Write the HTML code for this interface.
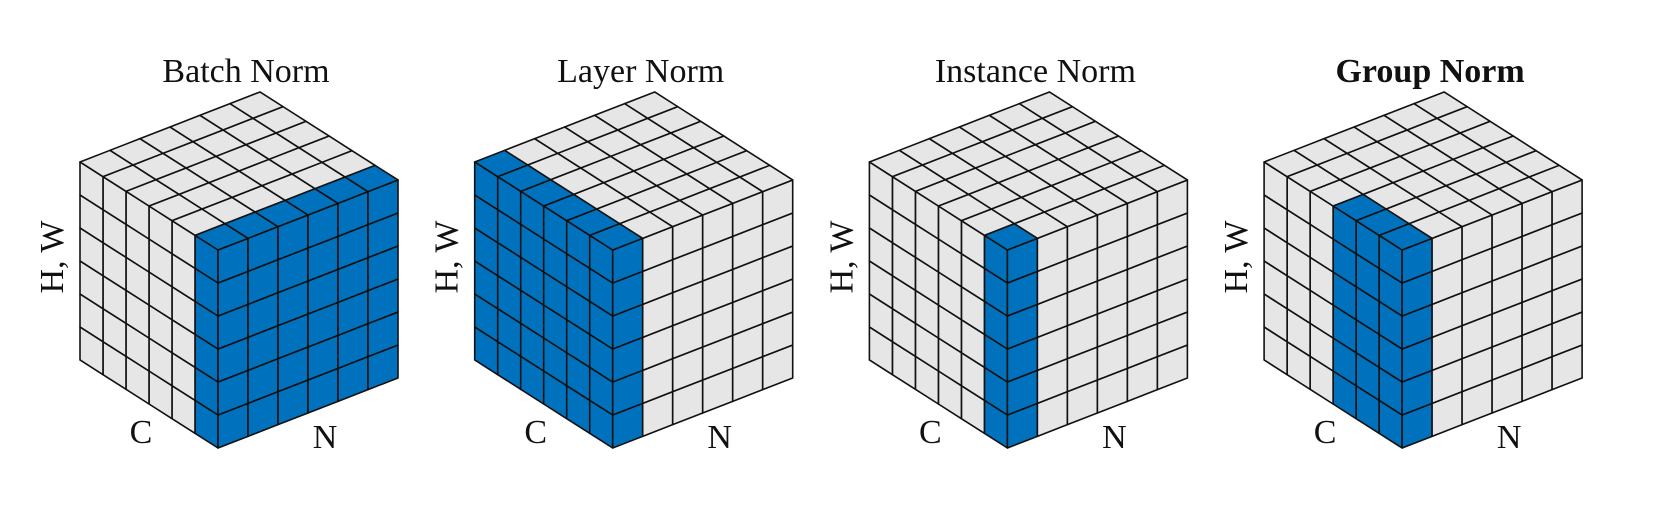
<!DOCTYPE html>
<html><head><meta charset="utf-8">
<style>
html,body{margin:0;padding:0;background:#fff;}
svg{display:block;}
text{font-family:"Liberation Serif","Times New Roman",serif;fill:#111;}
</style></head>
<body>
<svg id="fig" width="1656" height="505" viewBox="0 0 1656 505" xmlns="http://www.w3.org/2000/svg"></svg>
<script>
// data
const titles = ["Batch Norm", "Layer Norm", "Instance Norm", "Group Norm"];
const titleBold = [false, false, false, true];
// highlighted C indices (0 = front) and N indices (0 = front) per cube
const blueC = [[0], [0,1,2,3,4,5], [0], [0,1,2]];
const blueN = [[0,1,2,3,4,5], [0], [0], [0]];
const sizeC = 6, sizeN = 6, sizeH = 6;

const NS = "http://www.w3.org/2000/svg";
const svg = document.getElementById('fig');
const GRAY = "#e6e6e6", BLUE = "#0072bd";
const cubeSpacing = 394.7, baseLeft = 80;
const dxC = 23, dyC = 14.67, dxN = 30, dyN = 11.67, dH = 33;

function mk(tag, attrs) {
  const e = document.createElementNS(NS, tag);
  for (const k in attrs) e.setAttribute(k, attrs[k]);
  return e;
}
function proj(x0, u, v, w) {
  return [x0 - dxC * u + dxN * v, 448 - dH * w - dyC * u - dyN * v];
}
function poly(g, pts, fill, name) {
  const p = mk('polygon', {points: pts.map(q => q[0].toFixed(2) + ',' + q[1].toFixed(2)).join(' '), fill: fill, stroke: '#111', 'stroke-width': 1.6, 'stroke-linejoin': 'round'});
  
  
  g.appendChild(p);
}

titles.forEach((t, k) => {
  const left = baseLeft + k * cubeSpacing;
  const x0 = left + 138;
  const g = mk('g', {});
  
  
  svg.appendChild(g);
  const isC = c => blueC[k].includes(c);
  const isN = n => blueN[k].includes(n);
  for (let c = 0; c < sizeC; c++) for (let h = 0; h < sizeH; h++) {
    const col = (isC(c) && isN(0)) ? BLUE : GRAY;
    poly(g, [proj(x0,c,0,h), proj(x0,c+1,0,h), proj(x0,c+1,0,h+1), proj(x0,c,0,h+1)], col, 'left-face-cell');
  }
  for (let n = 0; n < sizeN; n++) for (let h = 0; h < sizeH; h++) {
    const col = (isC(0) && isN(n)) ? BLUE : GRAY;
    poly(g, [proj(x0,0,n,h), proj(x0,0,n+1,h), proj(x0,0,n+1,h+1), proj(x0,0,n,h+1)], col, 'right-face-cell');
  }
  for (let c = 0; c < sizeC; c++) for (let n = 0; n < sizeN; n++) {
    const col = (isC(c) && isN(n)) ? BLUE : GRAY;
    poly(g, [proj(x0,c,n,sizeH), proj(x0,c+1,n,sizeH), proj(x0,c+1,n+1,sizeH), proj(x0,c,n+1,sizeH)], col, 'top-face-cell');
  }
  const tt = mk('text', {x: left + 166, y: 82, 'font-size': 34, 'text-anchor': 'middle', 'font-weight': titleBold[k] ? 'bold' : 'normal'});
  tt.textContent = t;
  
  
  svg.appendChild(tt);
  const cl = mk('text', {x: left + 61, y: 443, 'font-size': 34, 'text-anchor': 'middle'});
  cl.textContent = 'C';
  
  
  svg.appendChild(cl);
  const nl = mk('text', {x: left + 245, y: 448, 'font-size': 34, 'text-anchor': 'middle'});
  nl.textContent = 'N';
  
  
  svg.appendChild(nl);
  const hl = mk('text', {x: 0, y: 0, 'font-size': 34, 'text-anchor': 'middle', transform: 'translate(' + (left - 17) + ',257) rotate(-90)'});
  hl.textContent = 'H, W';
  
  
  svg.appendChild(hl);
});
</script>
</body></html>
